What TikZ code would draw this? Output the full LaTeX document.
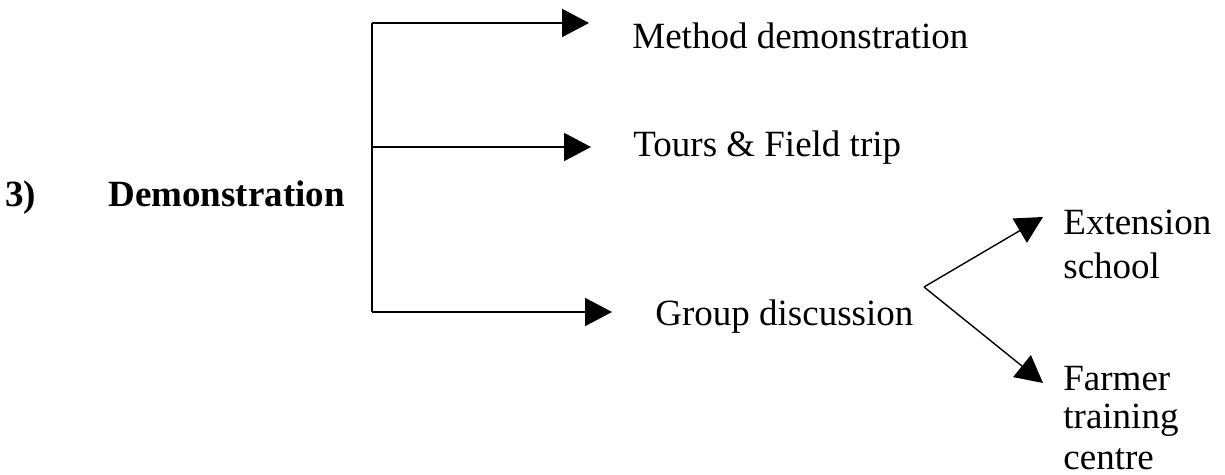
\documentclass[tikz,border=0pt]{standalone}
\usepackage{fontspec}
\setmainfont{Liberation Serif}
\usetikzlibrary{arrows.meta}
\begin{document}
\begin{tikzpicture}[x=0.5pt,y=-0.5pt,
  label/.style={anchor=base west,inner sep=0pt,font=\fontsize{18.5}{22}\selectfont},
  title/.style={label,font=\fontsize{18.5}{22}\selectfont\bfseries},
  trunk/.style={line width=1pt},
  branch/.style={line width=1pt,-{Triangle[length=13.5pt,width=14pt]}},
  fork/.style={line width=0.7pt,-{Triangle[length=13.5pt,width=14pt]}}]
\useasboundingbox (0,0) rectangle (1225,475);

% heading
\node[title] (num) at (5,207) {3)};
\node[title] (head) at (108,207) {Demonstration};

% main branches
\node[label] (method) at (632,49) {Method demonstration};
\node[label] (tours) at (633,157) {Tours \& Field trip};
\node[label] (group) at (655,326) {Group discussion};

\coordinate (t1) at (372,23);
\coordinate (t2) at (372,147);
\coordinate (t3) at (372,312);
\coordinate (e1) at (589,23);
\coordinate (e2) at (591,147);
\coordinate (e3) at (612,312);

\draw[trunk] (t1) -- (t3);
\draw[branch] (t1) -- (e1);
\draw[branch] (t2) -- (e2);
\draw[branch] (t3) -- (e3);

% sub-branches of group discussion
\coordinate (split) at (924,287);
\coordinate (s1) at (1043,217);
\coordinate (s2) at (1043,383);
\draw[fork] (split) -- (s1);
\draw[fork] (split) -- (s2);

\node[label] (ext1) at (1063,235) {Extension};
\node[label] (ext2) at (1063,279) {school};
\node[label] (far1) at (1063,390) {Farmer};
\node[label] (far2) at (1063,429) {training};
\node[label] (far3) at (1063,469) {centre};
\end{tikzpicture}
\end{document}
